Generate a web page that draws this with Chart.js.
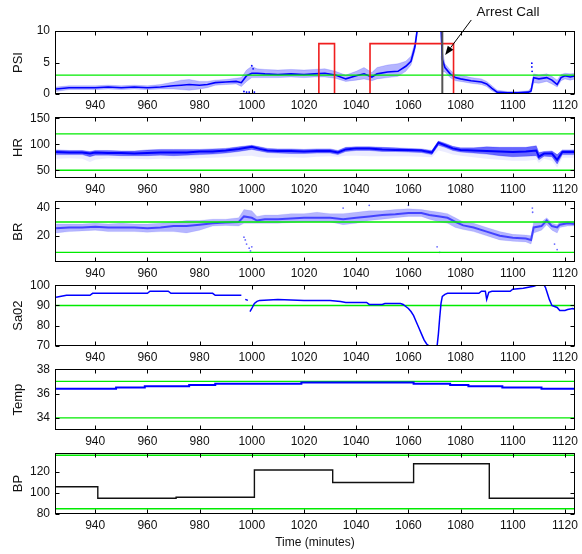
<!DOCTYPE html>
<html><head><meta charset="utf-8">
<script src="https://cdn.jsdelivr.net/npm/chart.js@4.4.1/dist/chart.umd.min.js"></script>
<style>
html,body{margin:0;padding:0;background:#fff;}
#wrap{position:relative;width:582px;height:554px;overflow:hidden;background:#fff;}
#wrap canvas{position:absolute;left:0;}
</style></head><body><div id="wrap"></div>
<script>
// ---------- axis ranges / ticks ----------
const X_MIN = 924.6, X_MAX = 1123.8;
const xTickStep = 20;

// ---------- PSI ----------
const psiT   = [925,930,935,940,945,950,955,960,965,970,973,976,980,983,986,990,994,996,998,1000,1002,1005,1010,1015,1020,1024,1028,1032,1036,1040,1043,1046,1048,1052,1056,1059,1061,1062.5,1063.5,1068,1072.5,1073,1074,1076,1078,1080,1084,1088,1090,1092,1094,1098,1102,1106,1107,1108,1110,1113,1115,1117,1118.5,1120,1122,1124];
const psiMid = [0.8,1.0,1.0,1.0,1.1,1.0,1.1,1.0,1.1,1.3,1.4,1.5,1.4,1.5,1.8,1.9,2.0,1.8,2.9,3.3,3.3,3.2,3.1,3.2,3.1,3.2,3.3,3.0,2.4,2.9,3.2,2.7,3.2,3.5,3.6,4.4,5.2,7.5,10.5,null,10.5,5.5,4.2,3.2,2.6,2.4,2.1,1.9,1.6,0.9,0.3,0.2,0.2,0.3,0.5,2.6,2.4,2.6,2.2,1.5,2.6,2.9,2.7,2.9];
const psiLo  = [0.4,0.7,0.7,0.7,0.8,0.7,0.8,0.7,0.8,0.8,0.7,0.6,0.8,1.0,1.4,1.5,1.6,1.2,2.0,2.6,2.6,2.6,2.6,2.7,2.6,2.7,2.7,2.5,2.0,2.2,2.4,2.1,2.4,2.6,2.8,3.6,4.6,6.8,10,null,6.0,3.5,3.5,2.6,2.1,2.0,1.7,1.5,1.2,0.5,0.1,0.05,0.05,0.1,0.2,1.8,1.7,2.0,1.6,1.1,2.1,2.4,2.2,2.4];
const psiHi  = [1.1,1.3,1.3,1.3,1.4,1.3,1.4,1.3,1.5,1.9,2.2,2.3,2.0,2.0,2.2,2.3,2.5,2.6,3.8,4.4,4.0,3.9,3.8,3.9,3.8,3.9,4.0,3.6,3.0,3.6,4.2,3.4,4.2,4.6,4.8,5.2,6.0,8.2,11,null,11,7.0,4.8,3.8,3.1,3.0,2.6,2.4,2.0,1.3,0.6,0.4,0.4,0.5,1.0,3.2,3.0,3.2,2.8,2.2,3.1,3.3,3.2,3.3];
const psiOutX = [997,998,999,1000,1000.5,1001,1107.3,1107.3,1107.4];
const psiOutY = [0.4,0.3,0.3,4.5,4.0,0.3,4.9,4.3,3.6];
const psiThresh = 3;
const redT = [924.6,1025.7,1031.7,1045.3,1077.3,1123.8];
const redV = [0,8,0,8,0,0];
const arrestTime = 1073;
const arrestLabel = 'Arrest Call';

// ---------- HR ----------
const hrT    = [925,930,935,938,940,945,950,955,960,965,970,975,980,985,990,995,1000,1003,1006,1010,1015,1020,1025,1030,1033,1036,1040,1045,1050,1055,1060,1065,1069,1071.5,1074,1077,1080,1085,1090,1095,1100,1105,1109,1110,1112,1115,1117,1119,1124];
const hrMid  = [85,84,84,82,84,83,83,82,83,84,84,84,86,86,88,91,95,91,88,87,87,86,87,87,84,90,92,92,90,89,89,88,84,103,98,92,89,88,87,86,85,86,88,76,82,82,70,85,85];
const hrLo   = [80,80,80,76,79,79,78,78,78,79,78,79,80,81,83,86,90,87,84,83,82,82,83,83,80,86,88,88,86,86,85,84,80,98,94,88,85,83,81,78,76,77,78,70,77,76,62,80,80];
const hrHi   = [89,88,88,86,88,88,87,87,89,90,90,90,90,91,92,95,98,95,92,91,91,90,91,91,88,94,95,95,94,93,92,91,88,106,102,96,93,93,95,94,94,94,97,84,86,87,80,89,89];
const hrFaint= [72,73,72,66,70,73,72,72,71,72,72,72,73,74,75,77,78,75,74,74,75,74,76,77,76,78,78,77,77,77,77,76,75,88,85,80,78,75,72,70,68,68,70,64,72,68,55,74,74];
const hrThresh = [120,50];

// ---------- BR ----------
const brT   = [925,930,935,940,945,950,955,960,965,970,975,980,985,990,995,997,1000,1002,1005,1010,1015,1020,1025,1030,1035,1040,1045,1050,1055,1060,1065,1068,1072,1075,1078,1081,1085,1090,1095,1100,1105,1107,1108,1111,1113,1115,1117,1118,1121,1124];
const brMid = [25.5,26,26,26.5,26,26,26,25.5,26,27,27,28,29,29.5,30,34,33,31,32,32,32.5,33,33,33,32,33,34,35,35.5,36.5,36.5,35,34,33,30,27.5,26,23,20,18.5,18,17,26,27,31,27,26,28,29,28.5];
const brLo  = [22,23,23.5,24,23,23,23,22.5,23,23,22,24,27,27.5,27,29,29,29,29,29,29.5,30,30,30,28,29,31,32,33,34,34,32,30,29,26,24.5,23,20,17,16,15.5,14,22,24,28,24,22,26,27,27];
const brHi  = [28.5,28.5,28.5,29,28.5,29,28.5,28.5,29,30,31,31,32,32,33,39,38,34,35,35,36,36,37,36,36,37,38,38,39,39.5,39,38,37,36,33,30,29,26,23,21,20.5,20,30,30,33,29,28,30,30.5,30];
const brOutX = [997,997.5,998,999,999.5,1000,1071,1072,1107.5,1107.6,1116,1117,1035,1060,1045];
const brOutY = [19,17,14,11,9,12,12,8,40,37,14,10,40,42,42];
const brThresh = [30,8];

// ---------- SaO2 ----------
const saT = [925,927,929,938,939,960,961,968,969,985,986,996,996.5,997.5,998.5,999,999.3,1000,1001,1002,1003,1010,1020,1030,1034,1036,1044,1045,1050,1051,1057,1058,1059,1060,1061,1062,1063,1064,1065,1066,1067,1068,1071,1071.5,1072,1072.5,1073,1074,1075,1087,1088,1089.5,1090,1090.8,1092,1099,1100,1104,1108,1109,1112,1112.5,1113,1114,1115,1116,1117,1118,1120,1121,1123,1124];
const saV = [94,94.5,95,95,96,96,97,97,96,96,95,95,null,93,92.5,null,87,88.5,91,92,92.5,93,92.5,92.5,92,91.5,91.5,90.5,90.5,91,91,90.5,89.5,88.5,87,85,82,79,76,73,71,70,70,76,84,91,94.5,95.5,96,96,97,97,93,96.5,97,97,98,98.5,99.5,100,100,99,97,93,90,89.5,89,87.5,87.5,88,88.5,88];
const saThresh = 90;

// ---------- Temp ----------
const tempT = [925,948,959,976,986,1019,1062,1076,1083,1096,1111,1124];
const tempV = [36.4,36.5,36.6,36.7,36.8,36.9,36.8,36.7,36.6,36.5,36.4,36.4];
const tempThresh = [37,34];

// ---------- BP ----------
const bpT = [925,941,971,1001,1031,1062,1091,1124];
const bpV = [106,95,96,122,110,128,95,95];
const bpThresh = [136,85];

// ---------- helpers ----------
Chart.defaults.font.family = "'Liberation Sans', Arial, Helvetica, sans-serif";
Chart.defaults.font.size = 12;
Chart.defaults.color = '#111';

const BLUE = 'rgb(0,0,255)';
const GREEN = 'rgb(0,235,0)';
const pts = (T, V) => T.map((t, i) => ({x: t, y: V[i]}));
const hline = v => [{x: X_MIN, y: v}, {x: X_MAX, y: v}];
const lineDs = (data, color, width, order, extra) => Object.assign({
  type: 'line', data, borderColor: color, borderWidth: width, pointRadius: 0,
  tension: 0, fill: false, order, spanGaps: false
}, extra || {});
const dotDs = (X, Y, color, order) => ({
  type: 'scatter', data: pts(X, Y), showLine: false, pointRadius: 0.9,
  pointBorderWidth: 0, pointBackgroundColor: color, order
});

const framePlugin = {
  id: 'frame',
  afterDatasetsDraw(chart) {
    const {ctx, chartArea: a, scales: {x, y}} = chart;
    ctx.save();
    ctx.strokeStyle = '#000';
    ctx.lineWidth = 1;
    const L = Math.round(a.left) + 0.5, R = Math.round(a.right) - 0.5;
    const T = Math.round(a.top) + 0.5, B = Math.round(a.bottom) - 0.5;
    ctx.strokeRect(L, T, R - L, B - T);
    ctx.beginPath();
    const tl = 4;
    x.ticks.forEach(t => {
      const px = Math.round(x.getPixelForValue(t.value)) + 0.5;
      ctx.moveTo(px, B); ctx.lineTo(px, B - tl);
      ctx.moveTo(px, T); ctx.lineTo(px, T + tl);
    });
    y.ticks.forEach(t => {
      const py = Math.round(y.getPixelForValue(t.value)) + 0.5;
      ctx.moveTo(L, py); ctx.lineTo(L + tl, py);
      ctx.moveTo(R, py); ctx.lineTo(R - tl, py);
    });
    ctx.stroke();
    ctx.restore();
  }
};

const arrestPlugin = {
  id: 'arrest',
  afterDraw(chart, args, opts) {
    if (!opts || !opts.on) return;
    const {ctx, scales: {x, y}} = chart;
    const hx = x.getPixelForValue(1074.1), hy = y.getPixelForValue(6.2);
    const tx = x.getPixelForValue(1084.1), ty = y.getPixelForValue(11.75);
    ctx.save();
    ctx.strokeStyle = '#000'; ctx.fillStyle = '#000'; ctx.lineWidth = 1;
    const ang = Math.atan2(hy - ty, hx - tx);
    const hl = 9, hw = 3.5;
    const bx = hx - hl * Math.cos(ang), by = hy - hl * Math.sin(ang);
    ctx.beginPath(); ctx.moveTo(tx, ty); ctx.lineTo(bx, by); ctx.stroke();
    ctx.beginPath();
    ctx.moveTo(hx, hy);
    ctx.lineTo(bx + hw * Math.sin(ang), by - hw * Math.cos(ang));
    ctx.lineTo(bx - hw * Math.sin(ang), by + hw * Math.cos(ang));
    ctx.closePath(); ctx.fill();
    ctx.font = "13.5px 'Liberation Sans', Arial, sans-serif";
    ctx.fillStyle = '#111';
    ctx.textAlign = 'center'; ctx.textBaseline = 'middle';
    ctx.fillText(arrestLabel, x.getPixelForValue(1098.2), y.getPixelForValue(12.9));
    ctx.restore();
  }
};

const wrap = document.getElementById('wrap');
function makePanel(cfg) {
  const c = document.createElement('canvas');
  c.width = 582; c.height = cfg.h;
  c.style.top = cfg.top + 'px';
  c.style.width = '582px'; c.style.height = cfg.h + 'px';
  wrap.appendChild(c);
  return new Chart(c, {
    type: 'line',
    data: {datasets: cfg.datasets},
    plugins: [framePlugin, arrestPlugin],
    options: {
      responsive: false, animation: false, devicePixelRatio: 1,
      layout: {padding: {top: cfg.padTop, right: 6, left: 0, bottom: 0}},
      plugins: {legend: {display: false}, tooltip: {enabled: false}, arrest: {on: !!cfg.arrest}},
      scales: {
        x: {
          type: 'linear', min: X_MIN, max: X_MAX,
          grid: {display: false, drawTicks: false}, border: {display: false},
          ticks: {stepSize: xTickStep, includeBounds: false, autoSkip: false, maxRotation: 0,
                  padding: 4, color: '#111', callback: v => String(v)},
          title: cfg.xTitle ? {display: true, text: cfg.xTitle, font: {size: 12}, color: '#111', padding: {top: 0, bottom: 4}} : {display: false},
          afterFit: s => { s.height = cfg.xh; }
        },
        y: {
          type: 'linear', min: cfg.ymin, max: cfg.ymax,
          grid: {display: false, drawTicks: false}, border: {display: false},
          ticks: {stepSize: cfg.step, includeBounds: false, padding: 5, color: '#111', callback: v => String(v)},
          title: {display: true, text: cfg.title, font: {size: 13}, color: '#111', padding: {top: 11, bottom: 0}},
          afterFit: s => { s.width = 55; }
        }
      }
    }
  });
}

// PSI panel
makePanel({top: 0, h: 116, padTop: 31, xh: 22, ymin: 0, ymax: 10, step: 5, title: 'PSI', arrest: true,
  datasets: [
    lineDs([{x: arrestTime, y: 0}, {x: arrestTime, y: 10}], 'rgb(85,85,85)', 2, 0),
    lineDs(pts(redT, redV), 'rgb(240,30,30)', 1.6, 1, {stepped: true}),
    lineDs(hline(psiThresh), GREEN, 1.4, 2),
    lineDs(pts(psiT, psiMid), BLUE, 1.6, 3),
    dotDs(psiOutX, psiOutY, BLUE, 3),
    lineDs(pts(psiT, psiLo), 'rgba(0,0,255,0.25)', 0.6, 5),
    lineDs(pts(psiT, psiHi), 'rgba(0,0,255,0.25)', 0.6, 5, {fill: '-1', backgroundColor: 'rgba(30,30,255,0.33)'})
  ]});

// HR panel
makePanel({top: 105, h: 95, padTop: 10, xh: 22, ymin: 35, ymax: 152, step: 50, title: 'HR',
  datasets: [
    lineDs(hline(hrThresh[0]), GREEN, 1.4, 2),
    lineDs(hline(hrThresh[1]), GREEN, 1.4, 2),
    lineDs(pts(hrT, hrMid), BLUE, 2, 3),
    lineDs(pts(hrT, hrLo), 'rgba(0,0,255,0.4)', 0.6, 4),
    lineDs(pts(hrT, hrHi), 'rgba(0,0,255,0.4)', 0.6, 4, {fill: '-1', backgroundColor: 'rgba(0,0,255,0.6)'}),
    lineDs(pts(hrT, hrFaint), 'rgba(0,0,255,0)', 0, 6, {fill: '-2', backgroundColor: 'rgba(70,70,255,0.1)'})
  ]});

// BR panel
makePanel({top: 189, h: 95, padTop: 10, xh: 22, ymin: 1, ymax: 45, step: 20, title: 'BR',
  datasets: [
    lineDs(hline(brThresh[0]), GREEN, 1.4, 2),
    lineDs(hline(brThresh[1]), GREEN, 1.4, 2),
    lineDs(pts(brT, brMid), 'rgba(20,20,255,0.7)', 2, 3),
    dotDs(brOutX, brOutY, 'rgba(40,40,255,0.7)', 3),
    lineDs(pts(brT, brLo), 'rgba(0,0,255,0.15)', 0.6, 4),
    lineDs(pts(brT, brHi), 'rgba(0,0,255,0.15)', 0.6, 4, {fill: '-1', backgroundColor: 'rgba(60,60,255,0.38)'})
  ]});

// SaO2 panel
makePanel({top: 273, h: 95, padTop: 10, xh: 22, ymin: 70, ymax: 100, step: 10, title: 'Sa02',
  datasets: [
    lineDs(pts(saT, saV), BLUE, 1.5, 1),
    lineDs(hline(saThresh), GREEN, 1.4, 2)
  ]});

// Temp panel
makePanel({top: 357, h: 95, padTop: 10, xh: 22, ymin: 33, ymax: 38, step: 2, title: 'Temp',
  datasets: [
    lineDs(hline(tempThresh[0]), GREEN, 1.4, 2),
    lineDs(hline(tempThresh[1]), GREEN, 1.4, 2),
    lineDs(pts(tempT, tempV), BLUE, 2, 1, {stepped: true})
  ]});

// BP panel
makePanel({top: 441, h: 113, padTop: 10, xh: 40, ymin: 80, ymax: 138, step: 20, title: 'BP', xTitle: 'Time (minutes)',
  datasets: [
    lineDs(hline(bpThresh[0]), GREEN, 1.4, 2),
    lineDs(hline(bpThresh[1]), GREEN, 1.4, 2),
    lineDs(pts(bpT, bpV), '#111', 1.4, 1, {stepped: true})
  ]});
</script>
</body></html>
